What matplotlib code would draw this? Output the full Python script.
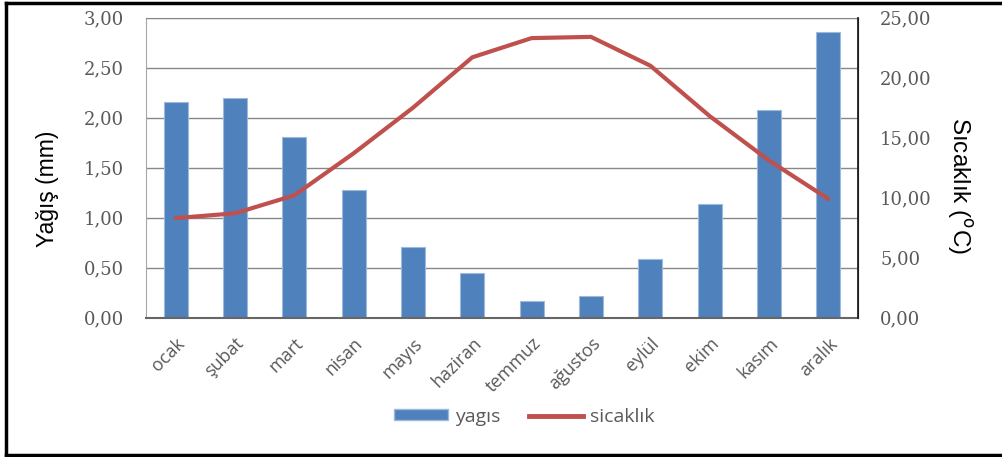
import matplotlib.pyplot as plt
from matplotlib.lines import Line2D
from matplotlib.patches import Patch
import numpy as np

aylar = ['ocak', 'şubat', 'mart', 'nisan', 'mayıs', 'haziran',
         'temmuz', 'ağustos', 'eylül', 'ekim', 'kasım', 'aralık']
yagis = [2.16, 2.20, 1.81, 1.28, 0.71, 0.45, 0.17, 0.22, 0.59, 1.14, 2.08, 2.86]
sicaklik = [8.3, 8.7, 10.2, 13.7, 17.5, 21.7, 23.3, 23.4, 21.0, 16.8, 13.1, 9.9]
sol_ticks = [0.0, 0.5, 1.0, 1.5, 2.0, 2.5, 3.0]
sag_ticks = [0, 5, 10, 15, 20, 25]

mavi = '#4F81BD'
kirmizi = '#C0504D'
gri = '#595959'


def virgul(v):
    return f'{v:.2f}'.replace('.', ',')


fig = plt.figure(figsize=(10.02, 4.57), dpi=100)
ax = fig.add_axes([0.1457, 0.3048, 0.7106, 0.6565])
x = np.arange(len(aylar))

ax.bar(x, yagis, width=0.4, color=mavi, edgecolor='#9DB9DC', linewidth=0.8, zorder=2)
ax.set_xlim(-0.5, len(aylar) - 0.5)
ax.set_ylim(0, 3)
ax.set_yticks(sol_ticks)
ax.set_yticklabels([virgul(v) for v in sol_ticks], family='DejaVu Serif',
                   fontsize=13, color=gri)
ax.yaxis.grid(True, color='#888888', linewidth=1.0, zorder=0)
ax.set_axisbelow(True)
ax.tick_params(axis='y', length=0, pad=16)
ax.set_xticks(x)
ax.set_xticklabels(aylar, rotation=45, ha='right', rotation_mode='anchor',
                   family='Open Sans', fontsize=13, color=gri)
ax.tick_params(axis='x', length=0, pad=12)
ax.set_ylabel('Yağış (mm)', family='Liberation Sans', fontsize=16.5)
ax.yaxis.set_label_coords(-0.122, 0.43)

ax.spines['left'].set_color('#A6A6A6')
ax.spines['top'].set_color('#888888')
ax.spines['bottom'].set_color('#666666')
ax.spines['bottom'].set_linewidth(1.5)

ax2 = ax.twinx()
ax2.plot(x, sicaklik, color=kirmizi, linewidth=3, solid_capstyle='round', zorder=3)
ax2.set_ylim(0, 25)
ax2.set_yticks(sag_ticks)
ax2.set_yticklabels([virgul(v) for v in sag_ticks], family='DejaVu Serif',
                    fontsize=13, color=gri)
ax2.tick_params(axis='y', length=0, pad=16)
ax2.set_ylabel('Sıcaklık ($^{\\mathrm{o}}$C)', family='Liberation Sans', fontsize=17.5,
               rotation=270, va='center')
ax2.yaxis.set_label_coords(1.143, 0.44)
ax2.spines['right'].set_color('#222222')
ax2.spines['right'].set_linewidth(1.3)
for s in ['left', 'top', 'bottom']:
    ax2.spines[s].set_visible(False)

handles = [Patch(facecolor=mavi, edgecolor='#9DB9DC'),
           Line2D([0], [0], color=kirmizi, linewidth=3.5)]
fig.legend(handles, ['yagıs', 'sicaklık'], loc='center', bbox_to_anchor=(0.523, 0.088),
           ncol=2, frameon=False, prop={'family': 'Open Sans', 'size': 14},
           labelcolor=gri, handlelength=2.8, handleheight=0.5, handletextpad=0.36,
           columnspacing=1.45)

# outer frame
fig.add_artist(Line2D([0.006, 0.006], [0.004, 0.993], color='black', linewidth=2.5))
fig.add_artist(Line2D([0.006, 1.0], [0.993, 0.993], color='black', linewidth=2.5))
fig.add_artist(Line2D([0.006, 1.0], [0.004, 0.004], color='black', linewidth=2.5))

fig.savefig('out.png', dpi=100)
